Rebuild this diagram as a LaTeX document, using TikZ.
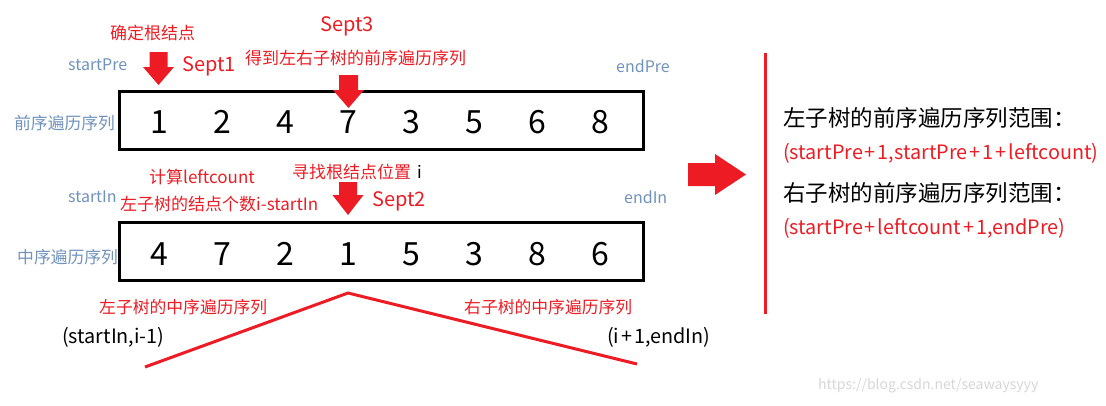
\documentclass[tikz,border=0pt]{standalone}
\usepackage{fontspec}
\setmainfont{Noto Sans CJK SC}
\definecolor{pred}{HTML}{ED1C24}
\definecolor{pblue}{HTML}{7092BE}
\definecolor{wmark}{HTML}{D6D6D6}
\newcommand\fsz[1]{\fontsize{#1}{#1}\selectfont}
\newcommand\pl{\hspace{2pt}+\hspace{2pt}}
\tikzset{
  lbl/.style={inner sep=0pt, anchor=west},
  bluelbl/.style={lbl, text=pblue, font=\fsz{16}},
  redlbl/.style={lbl, text=pred, font=\fsz{17}},
  steplbl/.style={lbl, text=pred, font=\fsz{20}},
  digit/.style={inner sep=0pt, font=\fsz{32}},
  seqbox/.style={draw, line width=3pt, minimum width=524pt, minimum height=58pt, inner sep=0pt},
  redline/.style={draw=pred, line width=3pt},
  rangelbl/.style={lbl, text=pred, font=\fsz{19.8}},
  headlbl/.style={lbl, font=\fsz{22.5}},
  treelbl/.style={lbl, text=pred, font=\fsz{16.8}},
  endlbl/.style={lbl, font=\fsz{19.8}},
}
\newcommand\downarr[5]{% center x, top y, shaft half width, head start y, tip y
  \fill[pred] (#1-#3,#2) -- (#1+#3,#2) -- (#1+#3,#4) -- (#1+15.5,#4) -- (#1,#5) -- (#1-15.5,#4) -- (#1-#3,#4) -- cycle;}
\begin{document}
\begin{tikzpicture}[x=1pt,y=-1pt]
\useasboundingbox (0,0) rectangle (1106,405);
% boxes
\node[seqbox] (pre) at (381,120) {};
\node[seqbox] (in) at (381,251) {};
% digits
\foreach \d [count=\k] in {1,2,4,7,3,5,6,8}
  \node[digit] (p\k) at ({159+63*(\k-1)},122) {\d};
\foreach \d [count=\k] in {4,7,2,1,5,3,8,6}
  \node[digit] (n\k) at ({159+63*(\k-1)},254) {\d};
% blue labels
\node[bluelbl] (sp) at (68,65) {startPre};
\node[bluelbl] (ep) at (616,66) {endPre};
\node[bluelbl,font=\fsz{16.8}] (prel) at (14,123) {前序遍历序列};
\node[bluelbl] (si) at (68,197) {startIn};
\node[bluelbl] (ei) at (624,197) {endIn};
\node[bluelbl,font=\fsz{16.8}] (inl) at (17,257) {中序遍历序列};
% red labels
\node[redlbl] (t1) at (110,33) {确定根结点};
\node[steplbl] (s1) at (182,66) {Sept1};
\node[steplbl] (s3) at (320,26) {Sept3};
\node[redlbl] (t3) at (245,58) {得到左右子树的前序遍历序列};
\node[redlbl] (t2a) at (149,177) {计算leftcount};
\node[redlbl] (t2b) at (120,204) {左子树的结点个数i-startIn};
\node[redlbl] (t2) at (292,172) {寻找根结点位置\hspace{6pt}\textcolor{black}{i}};
\node[steplbl] (s2) at (372,201) {Sept2};
% down arrows
\downarr{158.5}{52}{9}{67}{85}
\downarr{348.5}{75}{9.5}{90}{108}
\downarr{348}{182}{9}{195}{215}
% big right arrow
\fill[pred] (688,163) -- (715,163) -- (715,154) -- (746,174.5) -- (715,195) -- (715,186) -- (688,186) -- cycle;
% vertical separator
\coordinate (vt) at (765,53);
\coordinate (vb) at (765,314);
\draw[redline] (vt) -- (vb);
% right texts
\node[headlbl] (h1) at (783,118) {左子树的前序遍历序列范围：};
\node[rangelbl] (r1) at (783,153) {(startPre\pl1,startPre\pl1\pl leftcount)};
\node[headlbl] (h2) at (783,193) {右子树的前序遍历序列范围：};
\node[rangelbl] (r2) at (783,228) {(startPre\pl leftcount\pl1,endPre)};
% bottom tree lines
\coordinate (apex) at (348,293);
\coordinate (lf) at (145,367);
\coordinate (rf) at (637,364);
\draw[redline] (lf) -- (apex) -- (rf);
\node[treelbl] (lt) at (99,307) {左子树的中序遍历序列};
\node[treelbl] (rt) at (464,307) {右子树的中序遍历序列};
\node[endlbl] (lr) at (62,337) {(startIn,i-1)};
\node[endlbl] (rr) at (607,337) {(i\pl1,endIn)};
% watermark
\node[lbl,text=wmark,font=\fsz{14}] (wm) at (818,386) {https://blog.csdn.net/seawaysyyy};
\end{tikzpicture}
\end{document}
